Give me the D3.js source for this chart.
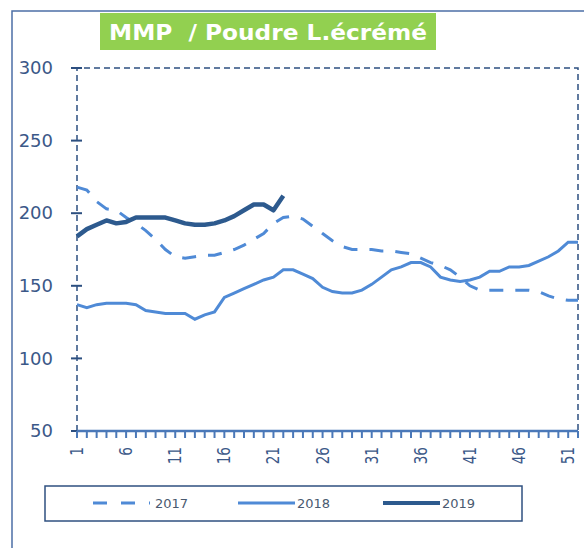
<!DOCTYPE html>
<html>
<head>
<meta charset="utf-8">
<script src="https://cdn.jsdelivr.net/npm/d3@7"></script>
<style>
  body { margin: 0; background: #fff; }
  svg { display: block; font-family: "DejaVu Sans", Verdana, sans-serif; }
</style>
</head>
<body>
<svg id="chart" width="584" height="548"></svg>
<script>
// --- data ---
var weeks = d3.range(1, 53);
var yTicks = [50, 100, 150, 200, 250, 300];
var xTickLabels = [1, 6, 11, 16, 21, 26, 31, 36, 41, 46, 51];
var seriesNames = ['2017', '2018', '2019'];

var values2017 = [218, 216, 208, 203, 202, 197, 193, 188, 182, 175,
                  170, 169, 170, 171, 171, 173, 175, 178, 182, 186,
                  193, 197, 198, 196, 191, 186, 181, 177, 175, 175,
                  175, 174, 174, 173, 172, 169, 166, 164, 161, 156,
                  150, 147, 147, 147, 147, 147, 147, 146, 143, 141,
                  140, 140];
var values2018 = [137, 135, 137, 138, 138, 138, 137, 133, 132, 131,
                  131, 131, 127, 130, 132, 142, 145, 148, 151, 154,
                  156, 161, 161, 158, 155, 149, 146, 145, 145, 147,
                  151, 156, 161, 163, 166, 166, 163, 156, 154, 153,
                  154, 156, 160, 160, 163, 163, 164, 167, 170, 174,
                  180, 180];
var values2019 = [184, 189, 192, 195, 193, 194, 197, 197, 197, 197,
                  195, 193, 192, 192, 193, 195, 198, 202, 206, 206,
                  202, 212];

var lightBlue = '#4f8ad6';
var darkBlue  = '#2d5a8e';
var axisText  = '#3b5888';
var axisLine  = '#2c4f80';

var svg = d3.select('#chart');

// outer chart frame
svg.append('path')
  .attr('d', 'M12,548 L12,11 L584,11')
  .attr('fill', 'none')
  .attr('stroke', '#4c6fa6')
  .attr('stroke-width', 1.5);

// title
svg.append('rect')
  .attr('x', 100).attr('y', 13).attr('width', 336).attr('height', 37)
  .attr('fill', '#92d050');
svg.append('text')
  .attr('x', 268).attr('y', 40)
  .attr('text-anchor', 'middle')
  .attr('fill', '#fff')
  .attr('font-weight', 'bold')
  .attr('font-size', 21)
  .style('white-space', 'pre')
  .attr('textLength', 318)
  .attr('lengthAdjust', 'spacingAndGlyphs')
  .text('MMP  / Poudre L.écrémé');

// scales
var x = d3.scaleLinear().domain([1, 52]).range([77, 578]);
var y = d3.scaleLinear().domain([50, 300]).range([431, 68]);

// plot area border (dashed)
svg.append('path')
  .attr('d', 'M' + x(1) + ',' + y(50) + ' L' + x(1) + ',' + y(300) +
             ' L' + x(52) + ',' + y(300) + ' L' + x(52) + ',' + y(50))
  .attr('fill', 'none')
  .attr('stroke', axisLine)
  .attr('stroke-width', 1.5)
  .attr('stroke-dasharray', '6,4');

// y axis labels
var yAxis = svg.append('g')
  .attr('transform', 'translate(' + x(1) + ',0)')
  .call(d3.axisLeft(y).tickValues(yTicks).tickSize(0).tickPadding(24));
yAxis.select('.domain').remove();
yAxis.selectAll('text')
  .attr('fill', axisText)
  .attr('font-size', 18)
  .attr('font-family', '"DejaVu Sans", Verdana, sans-serif');

// y tick marks cross the axis line
svg.append('g').selectAll('path')
  .data(yTicks)
  .enter()
  .append('path')
  .attr('d', function(d) { return 'M' + (x(1) - 6) + ',' + y(d) + 'H' + (x(1) + 5); })
  .attr('stroke', axisLine)
  .attr('stroke-width', 2);

// x axis line and one tick per week
svg.append('path')
  .attr('d', 'M' + x(1) + ',' + y(50) + 'H' + x(52))
  .attr('stroke', '#4a78b8')
  .attr('stroke-width', 2.5);

svg.append('g').selectAll('path')
  .data(weeks)
  .enter()
  .append('path')
  .attr('d', function(d) { return 'M' + x(d) + ',' + y(50) + 'V' + (y(50) + 7); })
  .attr('stroke', '#4a78b8')
  .attr('stroke-width', 2);

svg.append('g').selectAll('text')
  .data(xTickLabels)
  .enter()
  .append('text')
  .attr('transform', function(d) { return 'translate(' + (x(d) + 6) + ',' + 447 + ') rotate(-90) scale(0.8,1)'; })
  .attr('text-anchor', 'end')
  .attr('fill', axisText)
  .attr('font-size', 17)
  .text(function(d) { return d; });

// lines
var line = d3.line()
  .x(function(d, i) { return x(weeks[i]); })
  .y(function(d) { return y(d); });

svg.append('path')
  .datum(values2018)
  .attr('d', line)
  .attr('fill', 'none')
  .attr('stroke', lightBlue)
  .attr('stroke-width', 3);

svg.append('path')
  .datum(values2017)
  .attr('d', line)
  .attr('fill', 'none')
  .attr('stroke', lightBlue)
  .attr('stroke-width', 3)
  .attr('stroke-dasharray', '14,12');

svg.append('path')
  .datum(values2019)
  .attr('d', line)
  .attr('fill', 'none')
  .attr('stroke', darkBlue)
  .attr('stroke-width', 4.5)
  .attr('stroke-linejoin', 'round');

// legend
svg.append('rect')
  .attr('x', 45).attr('y', 486).attr('width', 477).attr('height', 35)
  .attr('fill', 'none')
  .attr('stroke', '#2f5080')
  .attr('stroke-width', 1.5);

var legendItems = [
  { name: seriesNames[0], x0: 93,  color: lightBlue, width: 3, dash: '14,14' },
  { name: seriesNames[1], x0: 238, color: lightBlue, width: 3, dash: null },
  { name: seriesNames[2], x0: 383, color: darkBlue,  width: 4, dash: null }
];
legendItems.forEach(function(item) {
  svg.append('line')
    .attr('x1', item.x0).attr('x2', item.x0 + 57)
    .attr('y1', 503).attr('y2', 503)
    .attr('stroke', item.color)
    .attr('stroke-width', item.width)
    .attr('stroke-dasharray', item.dash);
  svg.append('text')
    .attr('x', item.x0 + (item.dash ? 62 : 59)).attr('y', 508)
    .attr('fill', '#4a5a70')
    .attr('font-size', 13)
    .text(item.name);
});
</script>
</body>
</html>
